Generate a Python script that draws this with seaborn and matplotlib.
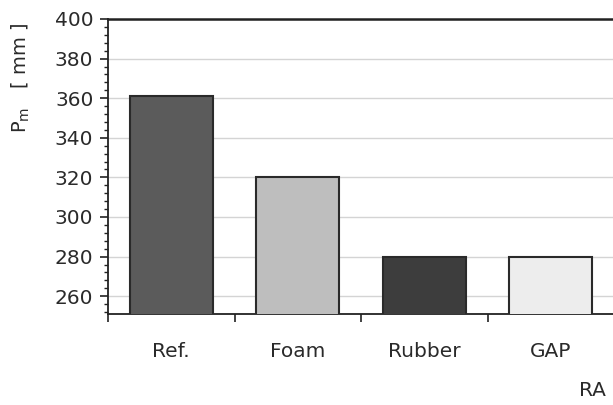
import matplotlib
matplotlib.use("Agg")
import matplotlib.pyplot as plt
import seaborn as sns
import pandas as pd
from matplotlib.ticker import MultipleLocator, FixedLocator

categories = ["Ref.", "Foam", "Rubber", "GAP"]
values = [361, 320, 280, 280]
colors = ["#5b5b5b", "#bebebe", "#3d3d3d", "#ededed"]
y_ticks = [260, 280, 300, 320, 340, 360, 380, 400]
y_label = "P$_{\\mathrm{m}}$   [ mm ]"
x_label = "RA"

sns.set_theme(style="white")
plt.rcParams["font.family"] = ["DejaVu Sans"]

df = pd.DataFrame({"cat": categories, "val": values})

fig = plt.figure(figsize=(6.13, 4.05), dpi=100)
ax = fig.add_axes([108 / 613, 1 - 314 / 405, 506 / 613, 295 / 405])

sns.barplot(data=df, x="cat", y="val", hue="cat", palette=colors, order=categories,
            hue_order=categories, legend=False, width=0.66, edgecolor="#2a2a2a",
            linewidth=1.5, ax=ax, zorder=3)

ax.set_ylim(251, 400)
ax.set_xlim(-0.5, 3.5)

ax.set_yticks(y_ticks)
ax.yaxis.set_minor_locator(MultipleLocator(4))
ax.grid(axis="y", which="major", color="#d4d4d4", linewidth=1.0, zorder=0)
ax.set_axisbelow(True)

ax.xaxis.set_major_locator(FixedLocator([-0.5, 0.5, 1.5, 2.5, 3.5]))
ax.xaxis.set_minor_locator(FixedLocator([0, 1, 2, 3]))
ax.set_xticklabels([""] * 5)
ax.set_xticklabels(categories, minor=True)

ax.tick_params(axis="x", which="major", direction="out", length=5.5, width=1.2, color="#222222", bottom=True)
ax.tick_params(axis="x", which="minor", length=0, pad=20, labelsize=14.5, labelcolor="#2a2a2a", bottom=True)
ax.tick_params(axis="y", which="major", direction="out", length=5.5, width=1.2, color="#222222",
               left=True, pad=5, labelsize=14.5, labelcolor="#2a2a2a")
ax.tick_params(axis="y", which="minor", direction="out", length=3, width=1.0, color="#222222", left=True)

for s in ["left", "bottom", "top"]:
    ax.spines[s].set_visible(True)
    ax.spines[s].set_color("#222222")
    ax.spines[s].set_linewidth(1.3)
ax.spines["top"].set_linewidth(1.8)
ax.spines["right"].set_visible(False)

ax.set_xlabel("")
ax.set_ylabel(y_label, fontsize=14, color="#2a2a2a")
ax.yaxis.set_label_coords(-0.15, 0.8)

fig.text(579 / 613, 1 - 390 / 405, x_label, fontsize=14.5, color="#2a2a2a", ha="left", va="center")

fig.savefig("out.png", dpi=100, facecolor="white")
